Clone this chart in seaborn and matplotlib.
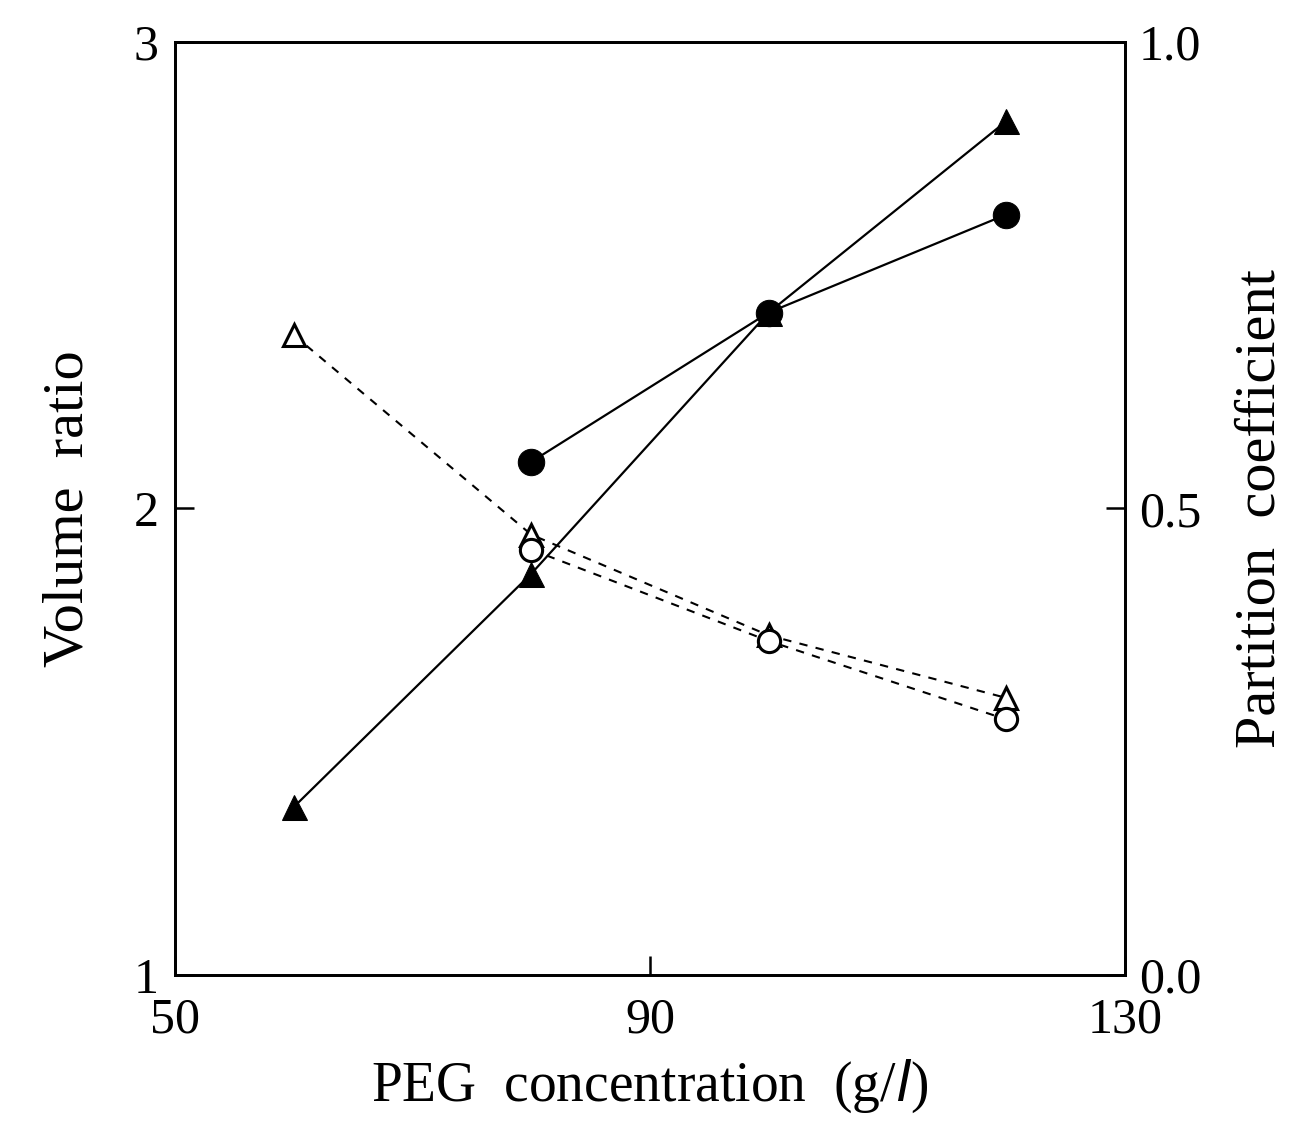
import numpy as np
import pandas as pd
import matplotlib
matplotlib.use('Agg')
import matplotlib.pyplot as plt
import seaborn as sns

# data
peg_tri = [60, 80, 100, 120]
peg_circ = [80, 100, 120]

# volume ratio (left axis), solid lines
vol_tri = [1.36, 1.86, 2.42, 2.83]
vol_circ = [2.10, 2.42, 2.63]

# partition coefficient (right axis), dashed lines
part_tri = [0.686, 0.472, 0.364, 0.297]
part_circ = [0.456, 0.358, 0.274]

sns.set_theme(style='white')
plt.rcParams['font.family'] = ['Liberation Serif', 'DejaVu Serif']
plt.rcParams['text.color'] = 'black'
plt.rcParams['axes.labelcolor'] = 'black'

fig = plt.figure(figsize=(13.11, 11.23), dpi=100)
ax = fig.add_axes([0.1335, 0.1318, 0.7245, 0.8308])
ax2 = ax.twinx()

# solid, filled markers
sns.lineplot(x=peg_tri, y=vol_tri, ax=ax, color='black', lw=1.6,
             marker='^', markersize=18, markerfacecolor='black', markeredgecolor='black')
sns.lineplot(x=peg_circ, y=vol_circ, ax=ax, color='black', lw=1.6,
             marker='o', markersize=19, markerfacecolor='black', markeredgecolor='black')

# dashed, open markers
sns.lineplot(x=peg_tri, y=part_tri, ax=ax2, color='black', lw=1.5, linestyle=(0, (4, 4)),
             marker='^', markersize=16, markerfacecolor='white', markeredgecolor='black',
             markeredgewidth=2.2)
sns.lineplot(x=peg_circ, y=part_circ, ax=ax2, color='black', lw=1.5, linestyle=(0, (4, 4)),
             marker='o', markersize=16, markerfacecolor='white', markeredgecolor='black',
             markeredgewidth=2.2)

ax.set_xlim(50, 130)
ax.set_ylim(1, 3)
ax2.set_ylim(0, 1)
ax.set_xticks([50, 90, 130])
ax.set_yticks([1, 2, 3])
ax2.set_yticks([0.0, 0.5, 1.0])
ax2.set_yticklabels(['0.0', '0.5', '1.0'])

ax.tick_params(axis='x', bottom=True, top=False)
ax.tick_params(axis='y', left=True, right=False)
ax2.tick_params(axis='y', left=False, right=True)
for a in (ax, ax2):
    a.tick_params(direction='in', length=14, width=1.8, labelsize=36,
                  colors='black', labelcolor='black')
    for s in a.spines.values():
        s.set_color('black')
        s.set_linewidth(2)
ax.tick_params(axis='x', pad=16)
ax.tick_params(axis='y', pad=12)
ax2.tick_params(axis='y', pad=10)

ax.set_xlabel('PEG  concentration  (g/$\\it{l}$)', fontsize=40, labelpad=10)
ax.set_ylabel('Volume  ratio', fontsize=42, labelpad=28)
ax2.set_ylabel('Partition  coefficient', fontsize=42, labelpad=24)

fig.savefig('out.png', dpi=100)
